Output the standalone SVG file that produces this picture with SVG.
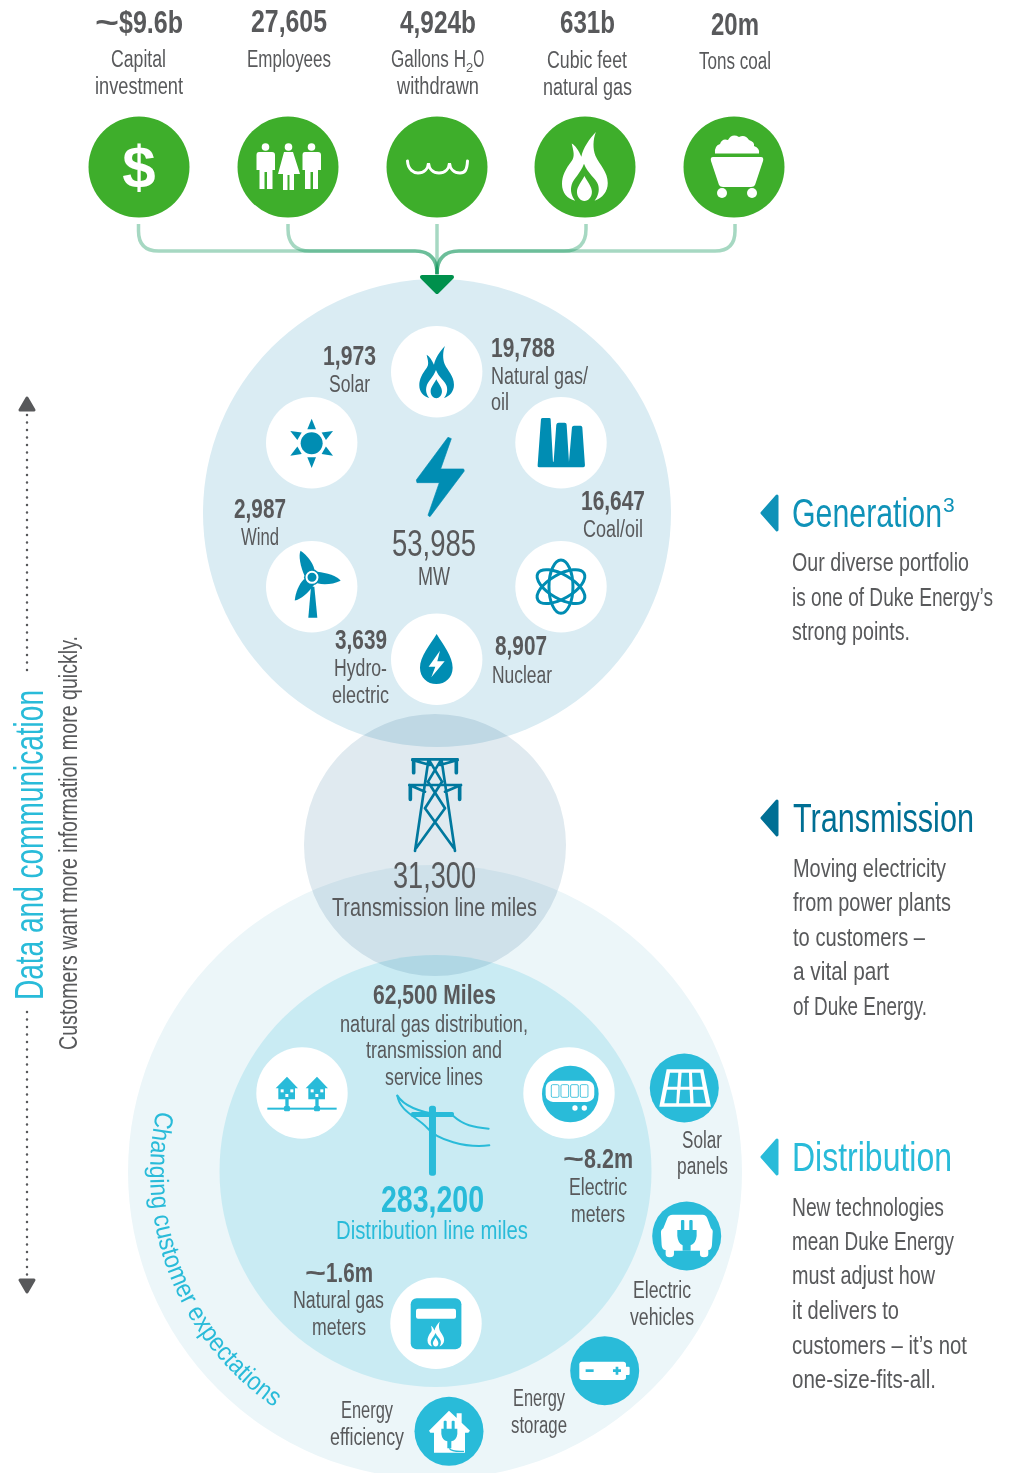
<svg xmlns="http://www.w3.org/2000/svg" xmlns:xlink="http://www.w3.org/1999/xlink" width="1009" height="1473" viewBox="0 0 1009 1473">
<style>
text{font-family:"Liberation Sans Narrow","Liberation Sans",sans-serif;fill:#58595B}
.n{font-size:31px;font-weight:700}
.s{font-size:27px;font-weight:700}
.l{font-size:23.5px}
.b{font-size:25px}
.h{font-size:40px}
.big{font-size:37px}
.teal{fill:#29BBD9}
.wt{fill:#fff}
.blue{fill:#008DB3}
.tl{fill:#29BBD9}
.gr{fill:#3EAE2B}
.conn{fill:none;stroke:#00904F;stroke-opacity:.35;stroke-width:3.5}
.disc{mix-blend-mode:multiply}
</style>
<defs>
<path id="flame" fill-rule="evenodd" d="M77 0C62 16 48 36 44 56C38 42 30 30 22 26C26 44 30 54 22 66C8 84 0 100 0 118C0 138 12 152 30 156C22 146 18 134 22 120C26 106 42 94 50 72C58 94 78 106 82 120C86 134 82 146 74 156C92 150 104 136 104 116C104 90 86 76 76 54C70 38 70 18 77 0ZM51 100C44 114 34 124 34 136C34 148 42 157 51 157C60 157 68 148 68 136C68 124 58 114 51 100Z"/>
<path id="tri" d="M16 2L1 19L16 36Z" stroke-width="3" stroke-linejoin="round"/>
<path id="blade" d="M262 755C290 758 322 768 332 782C310 792 285 796 262 790Z"/>
<path id="curve" d="M156.700 1110.800A285 285 0 0 0 292.500 1418.800"/>
</defs>

<g id="discs">
<circle cx="437" cy="513" r="234" fill="#DAECF3"/>
<circle cx="435" cy="1172" r="307" fill="#ECF6F9"/>
<circle cx="435.500" cy="1171" r="216" fill="#C9EBF3"/>
<circle class="disc" cx="435" cy="845" r="131" fill="#E0EAF0"/>
</g>

<g id="connectors">
<path class="conn" d="M138.500 224V231Q138.500 251 158.500 251H415Q437 251 437 274"/>
<path class="conn" d="M288 224V229Q288 251 310 251H415Q437 251 437 274"/>
<path class="conn" d="M437 224V276"/>
<path class="conn" d="M586 224V229Q586 251 564 251H459Q437 251 437 274"/>
<path class="conn" d="M735 224V231Q735 251 715 251H459Q437 251 437 274"/>
<path d="M422 277L452 277L437 292Z" fill="#00904C" stroke="#00904C" stroke-width="4" stroke-linejoin="round"/>
</g>

<g id="input-capital">
<text class="n" x="95" y="33"><tspan textLength="24" lengthAdjust="spacingAndGlyphs">~</tspan><tspan textLength="64" lengthAdjust="spacingAndGlyphs">$9.6b</tspan></text>
<text class="l" x="111" y="67" textLength="55" lengthAdjust="spacingAndGlyphs">Capital</text>
<text class="l" x="95" y="94" textLength="88" lengthAdjust="spacingAndGlyphs">investment</text>
<circle class="gr" cx="139" cy="167" r="50.500"/>
<text x="139" y="188" text-anchor="middle" style="font-family:'Liberation Sans',sans-serif;font-weight:700;font-size:60px;fill:#fff">$</text>
</g>
<g id="input-employees">
<text class="n" x="251" y="32" textLength="76" lengthAdjust="spacingAndGlyphs">27,605</text>
<text class="l" x="247" y="67" textLength="84" lengthAdjust="spacingAndGlyphs">Employees</text>
<circle class="gr" cx="288" cy="167" r="50.500"/>
<g class="wt">
<circle cx="265.500" cy="147" r="3.800"/><circle cx="288.500" cy="147" r="3.800"/><circle cx="311.500" cy="147" r="3.800"/>
<path d="M259 152H272Q275 152 275 155V170H272.500V189H267V172H264.500V189H259.500V170H256.500V155Q256.500 152 259 152Z"/>
<path d="M305 152H318Q321 152 321 155V170H318V189H313V172H310.500V189H305V170H302.500V155Q302.500 152 305 152Z"/>
<path d="M284 152H293L300 174H294V190H289.500V175H287.500V190H283V174H278Z"/>
</g>
</g>
<g id="input-water">
<text class="n" x="400" y="33" textLength="76" lengthAdjust="spacingAndGlyphs">4,924b</text>
<text class="l" x="391" y="67"><tspan textLength="75" lengthAdjust="spacingAndGlyphs">Gallons H</tspan><tspan dy="5" style="font-size:13px">2</tspan><tspan dy="-5" textLength="11" lengthAdjust="spacingAndGlyphs">O</tspan></text>
<text class="l" x="397" y="94" textLength="82" lengthAdjust="spacingAndGlyphs">withdrawn</text>
<circle class="gr" cx="437" cy="167" r="50.500"/>
<path d="M407.500 161C408 170 414 173 418 173C424 173 428 169 428.500 163C429 169 433 173 439 173C445 173 449 169 449.500 163C450 169 454 173 460 173C465 173 467 170 467.500 161" fill="none" stroke="#fff" stroke-width="3" stroke-linecap="round"/>
</g>
<g id="input-gas">
<text class="n" x="560" y="33" textLength="55" lengthAdjust="spacingAndGlyphs">631b</text>
<text class="l" x="547" y="68" textLength="80" lengthAdjust="spacingAndGlyphs">Cubic feet</text>
<text class="l" x="543" y="95" textLength="89" lengthAdjust="spacingAndGlyphs">natural gas</text>
<circle class="gr" cx="585" cy="167" r="50.500"/>
<use xlink:href="#flame" href="#flame" fill="#fff" transform="translate(562 132) scale(.44)"/>
</g>
<g id="input-coal">
<text class="n" x="711" y="35" textLength="48" lengthAdjust="spacingAndGlyphs">20m</text>
<text class="l" x="699" y="69" textLength="72" lengthAdjust="spacingAndGlyphs">Tons coal</text>
<circle class="gr" cx="734" cy="167" r="50.500"/>
<g class="wt">
<path d="M715 153.500Q714 146 720 144Q722 138 728 140Q732 133 739 137Q745 134 749 140Q755 142 754 146Q760 148 759 153.500Z"/>
<path d="M713 157H761Q764 157 763 161L755 185Q754 187 751 187H723Q720 187 719 185L711 161Q710 157 713 157Z"/>
<circle cx="722" cy="193" r="5"/><circle cx="752" cy="193" r="5"/>
</g>
</g>

<g id="generation-total">
<path class="blue" stroke="#008DB3" stroke-width="2" stroke-linejoin="round" transform="translate(230 320) scale(.3333)" d="M654 352L559 480L561 488H628L594 586L600 590L703 453L701 447H632L664 356Z"/>
<text x="392" y="556" class="big" textLength="84" lengthAdjust="spacingAndGlyphs">53,985</text>
<text x="418" y="585" class="b" textLength="32" lengthAdjust="spacingAndGlyphs">MW</text>
</g>
<g id="gen-gas">
<circle class="wt" cx="436.700" cy="371.700" r="45.700"/>
<use xlink:href="#flame" href="#flame" class="blue" transform="translate(419.300 346) scale(.3333)"/>
<text x="491" y="357" class="s" textLength="64" lengthAdjust="spacingAndGlyphs">19,788</text>
<text x="491" y="384" class="l" textLength="97" lengthAdjust="spacingAndGlyphs">Natural gas/</text>
<text x="491" y="410" class="l" textLength="18" lengthAdjust="spacingAndGlyphs">oil</text>
</g>
<g id="gen-solar">
<circle class="wt" cx="311.700" cy="442.700" r="45.700"/>
<g class="blue" transform="translate(230 320) scale(.3333)">
<circle cx="245" cy="370" r="33"/>
<path d="M245 296L232 328H258Z"/>
<path d="M245 296L232 328H258Z" transform="rotate(60 245 370)"/>
<path d="M245 296L232 328H258Z" transform="rotate(120 245 370)"/>
<path d="M245 296L232 328H258Z" transform="rotate(180 245 370)"/>
<path d="M245 296L232 328H258Z" transform="rotate(240 245 370)"/>
<path d="M245 296L232 328H258Z" transform="rotate(300 245 370)"/>
</g>
<text x="323" y="365" class="s" textLength="53" lengthAdjust="spacingAndGlyphs">1,973</text>
<text x="329" y="392" class="l" textLength="41" lengthAdjust="spacingAndGlyphs">Solar</text>
</g>
<g id="gen-coal">
<circle class="wt" cx="561" cy="442.700" r="45.700"/>
<path class="blue" transform="translate(230 320) scale(.3333)" d="M938 294H958Q962 294 962 298L969 425H971L979 314Q980 308 986 308H1004Q1010 308 1010 314L1017 425L1026 322Q1027 317 1032 317H1052Q1056 317 1057 322L1065 436Q1065 442 1060 442H927Q922 442 923 436L933 298Q934 294 938 294Z"/>
<text x="581" y="510" class="s" textLength="64" lengthAdjust="spacingAndGlyphs">16,647</text>
<text x="583" y="537" class="l" textLength="60" lengthAdjust="spacingAndGlyphs">Coal/oil</text>
</g>
<g id="gen-wind">
<circle class="wt" cx="311.700" cy="586.700" r="45.700"/>
<g class="blue" transform="translate(230 320) scale(.3333)">
<path d="M243 800H253L262 893H235Z"/>
<use xlink:href="#blade" href="#blade"/>
<use xlink:href="#blade" href="#blade" transform="rotate(-120 246 772)"/>
<use xlink:href="#blade" href="#blade" transform="rotate(120 246 772)"/>
<circle cx="246" cy="772" r="24"/>
</g>
<circle cx="312" cy="577.300" r="5.500" fill="none" stroke="#fff" stroke-width="2"/>
<text x="234" y="518" class="s" textLength="52" lengthAdjust="spacingAndGlyphs">2,987</text>
<text x="241" y="545" class="l" textLength="38" lengthAdjust="spacingAndGlyphs">Wind</text>
</g>
<g id="gen-nuclear">
<circle class="wt" cx="561" cy="586.700" r="45.700"/>
<g fill="none" stroke="#008DB3" transform="translate(230 320) scale(.3333)" style="stroke-width:9">
<ellipse cx="993" cy="800" rx="80" ry="36" transform="rotate(90 993 800)"/>
<ellipse cx="993" cy="800" rx="80" ry="36" transform="rotate(30 993 800)"/>
<ellipse cx="993" cy="800" rx="80" ry="36" transform="rotate(-30 993 800)"/>
</g>
<text x="495" y="655" class="s" textLength="52" lengthAdjust="spacingAndGlyphs">8,907</text>
<text x="492" y="683" class="l" textLength="60" lengthAdjust="spacingAndGlyphs">Nuclear</text>
</g>
<g id="gen-hydro">
<circle class="wt" cx="436.700" cy="659.300" r="45.700"/>
<g transform="translate(230 320) scale(.3333)">
<path class="blue" d="M620 942C600 975 570 1010 570 1043C570 1072 592 1092 619 1092C646 1092 668 1072 668 1043C668 1010 640 975 620 942Z"/>
<path class="wt" d="M630 992L596 1040H616L604 1072L644 1024H622Z"/>
</g>
<text x="335" y="649" class="s" textLength="52" lengthAdjust="spacingAndGlyphs">3,639</text>
<text x="334" y="676" class="l" textLength="53" lengthAdjust="spacingAndGlyphs">Hydro-</text>
<text x="332" y="703" class="l" textLength="57" lengthAdjust="spacingAndGlyphs">electric</text>
</g>

<g id="transmission-tower">
<g transform="translate(380 740) scale(.3333)" fill="none" stroke="#00789E" stroke-width="8" stroke-linecap="round" stroke-linejoin="round">
<path d="M97 58H233M88 135H243M145 62L105 333M185 62L225 333M97 60L150 75M233 60L180 75M88 135L135 155M243 135L195 155M150 65L186 125L135 205L222 325M180 65L144 125L195 205L108 325"/>
<path d="M101 62V98M229 62V98M91 138V178M239 138V178" stroke-width="11"/>
</g>
<text x="393" y="888" class="big" textLength="83" lengthAdjust="spacingAndGlyphs">31,300</text>
<text x="332" y="916" class="b" textLength="205" lengthAdjust="spacingAndGlyphs">Transmission line miles</text>
</g>

<g id="distribution-total">
<text x="373" y="1004" class="s" textLength="123" lengthAdjust="spacingAndGlyphs">62,500 Miles</text>
<text x="340" y="1032" class="l" textLength="188" lengthAdjust="spacingAndGlyphs">natural gas distribution,</text>
<text x="366" y="1058" class="l" textLength="136" lengthAdjust="spacingAndGlyphs">transmission and</text>
<text x="385" y="1085" class="l" textLength="98" lengthAdjust="spacingAndGlyphs">service lines</text>
<g transform="translate(240 1040) scale(.3333)">
<g fill="none" stroke="#29BBD9" stroke-width="6" stroke-linecap="round">
<path d="M472 167C490 195 530 215 600 225"/>
<path d="M472 167C480 215 530 230 560 262C590 300 680 325 748 316"/>
<path d="M640 228C670 255 700 262 746 266"/>
</g>
<rect class="teal" x="567" y="197" width="21" height="210" rx="8"/>
<rect class="teal" x="513" y="216" width="129" height="15" rx="5"/>
</g>
<text class="big tl" x="381" y="1212" font-weight="700" textLength="103" lengthAdjust="spacingAndGlyphs">283,200</text>
<text class="b tl" x="336" y="1239" textLength="192" lengthAdjust="spacingAndGlyphs">Distribution line miles</text>
</g>
<g id="dist-homes">
<circle class="wt" cx="302" cy="1093" r="45.700"/>
<g transform="translate(240 1040) scale(.3333)">
<rect class="teal" x="82" y="203" width="208" height="6"/>
<g>
<path class="teal" d="M141 110L174 145H165V178H146V203H136V178H115V145H107Z"/>
<rect class="teal" x="132" y="198" width="18" height="16" rx="4"/>
<rect class="wt" x="122" y="148" width="9" height="9"/><rect class="wt" x="151" y="148" width="9" height="9"/><rect class="wt" x="136" y="162" width="9" height="9"/>
</g>
<g transform="translate(90 0)">
<path class="teal" d="M141 110L174 145H165V178H146V203H136V178H115V145H107Z"/>
<rect class="teal" x="132" y="198" width="18" height="16" rx="4"/>
<rect class="wt" x="122" y="148" width="9" height="9"/><rect class="wt" x="151" y="148" width="9" height="9"/><rect class="wt" x="136" y="162" width="9" height="9"/>
</g>
</g>
</g>
<g id="dist-meters">
<circle class="wt" cx="569" cy="1093" r="45.700"/>
<g transform="translate(240 1040) scale(.3333)">
<circle class="teal" cx="991" cy="162" r="85"/>
<rect class="wt" x="917" y="122" width="146" height="64" rx="22"/>
<g fill="none" stroke="#29BBD9" stroke-width="2.500">
<rect x="934" y="134" width="23" height="38" rx="4"/><rect x="963" y="134" width="23" height="38" rx="4"/><rect x="992" y="134" width="23" height="38" rx="4"/><rect x="1021" y="134" width="23" height="38" rx="4"/>
</g>
<circle class="wt" cx="1005" cy="204" r="8"/><circle class="wt" cx="1033" cy="204" r="8"/>
</g>
<text class="s" x="563" y="1168"><tspan textLength="21" lengthAdjust="spacingAndGlyphs">~</tspan><tspan textLength="49" lengthAdjust="spacingAndGlyphs">8.2m</tspan></text>
<text class="l" x="569" y="1195" textLength="58" lengthAdjust="spacingAndGlyphs">Electric</text>
<text class="l" x="571" y="1222" textLength="54" lengthAdjust="spacingAndGlyphs">meters</text>
</g>
<g id="dist-gas-meters">
<circle class="wt" cx="436" cy="1323.300" r="45.700"/>
<rect class="teal" x="410.700" y="1298.300" width="50.700" height="51" rx="6"/>
<rect class="wt" x="416" y="1308.700" width="40" height="10" rx="2"/>
<use xlink:href="#flame" href="#flame" fill="#fff" transform="translate(427.500 1321.500) scale(.16)"/>
<text class="s" x="305" y="1282"><tspan textLength="21" lengthAdjust="spacingAndGlyphs">~</tspan><tspan textLength="47" lengthAdjust="spacingAndGlyphs">1.6m</tspan></text>
<text class="l" x="293" y="1308" textLength="91" lengthAdjust="spacingAndGlyphs">Natural gas</text>
<text class="l" x="312" y="1335" textLength="54" lengthAdjust="spacingAndGlyphs">meters</text>
</g>
<g id="exp-solar">
<circle class="teal" cx="684.300" cy="1088" r="34.500"/>
<g transform="translate(380 1040) scale(.3333)">
<path class="wt" d="M860 88H970L993 200H838Z"/>
<path class="teal" d="M870 98H895L892 140H863ZM905 98H927L928 140H902ZM936 98H961L968 140H938ZM861 149H891L889 190H853ZM901 149H929L931 190H897ZM939 149H970L978 190H941Z"/>
</g>
<text class="l" x="682" y="1148" textLength="40" lengthAdjust="spacingAndGlyphs">Solar</text>
<text class="l" x="677" y="1174" textLength="51" lengthAdjust="spacingAndGlyphs">panels</text>
</g>
<g id="exp-ev">
<circle class="teal" cx="686.700" cy="1236" r="34.500"/>
<g transform="translate(380 1040) scale(.3333)">
<path class="wt" d="M878 524H968Q978 524 982 535L993 565Q1000 570 998 580L996 615Q995 630 985 630V642Q985 652 972 652Q960 652 960 642V632H882V642Q882 652 869 652Q857 652 857 642V630Q846 630 845 615L843 580Q842 570 850 565L862 535Q866 524 878 524Z"/>
<g class="teal">
<rect x="903" y="540" width="10" height="34" rx="3"/><rect x="928" y="540" width="10" height="34" rx="3"/>
<path d="M892 570H950V588Q948 610 932 616V632H908V616Q894 610 892 588Z"/>
</g>
</g>
<text class="l" x="633" y="1298" textLength="58" lengthAdjust="spacingAndGlyphs">Electric</text>
<text class="l" x="630" y="1325" textLength="64" lengthAdjust="spacingAndGlyphs">vehicles</text>
</g>
<g id="exp-storage">
<circle class="teal" cx="604.700" cy="1370.700" r="34.500"/>
<g transform="translate(380 1040) scale(.3333)">
<rect class="wt" x="598" y="965" width="140" height="55" rx="8"/>
<rect class="wt" x="735" y="980" width="14" height="25" rx="3"/>
<rect class="teal" x="617" y="988" width="24" height="8"/>
<path class="teal" d="M707 980H715V988H723V996H715V1004H707V996H699V988H707Z"/>
</g>
<text class="l" x="513" y="1406" textLength="52" lengthAdjust="spacingAndGlyphs">Energy</text>
<text class="l" x="511" y="1433" textLength="56" lengthAdjust="spacingAndGlyphs">storage</text>
</g>
<g id="exp-efficiency">
<circle class="teal" cx="449" cy="1431.300" r="34.500"/>
<g transform="translate(380 1040) scale(.3333)">
<path class="wt" d="M207 1112L230 1134V1120H245V1148L270 1172L265 1178H255V1238H162V1178H151L147 1172Z"/>
<g class="teal">
<rect x="191" y="1142" width="9" height="28" rx="3"/><rect x="215" y="1142" width="9" height="28" rx="3"/>
<path d="M184 1166H232V1182Q230 1200 214 1204V1225H202V1204Q186 1200 184 1182Z"/>
<path d="M208 1225Q215 1236 252 1234" fill="none" stroke="#29BBD9" stroke-width="4"/>
</g>
</g>
<text class="l" x="341" y="1418" textLength="52" lengthAdjust="spacingAndGlyphs">Energy</text>
<text class="l" x="330" y="1445" textLength="74" lengthAdjust="spacingAndGlyphs">efficiency</text>
</g>
<g id="changing-expectations">
<text class="b tl" style="font-size:26px"><textPath xlink:href="#curve" href="#curve" textLength="338" lengthAdjust="spacingAndGlyphs">Changing customer expectations</textPath></text>
</g>

<g id="side-generation">
<use xlink:href="#tri" href="#tri" fill="#0F92B8" stroke="#0F92B8" transform="translate(761 494)"/>
<text class="h" x="792" y="527" style="fill:#0F92B8"><tspan textLength="150" lengthAdjust="spacingAndGlyphs">Generation</tspan><tspan dy="-15" dx="1" style="font-size:21px">3</tspan></text>
<text class="b" x="792" y="571" textLength="177" lengthAdjust="spacingAndGlyphs">Our diverse portfolio</text>
<text class="b" x="792" y="606" textLength="201" lengthAdjust="spacingAndGlyphs">is one of Duke Energy’s</text>
<text class="b" x="792" y="640" textLength="118" lengthAdjust="spacingAndGlyphs">strong points.</text>
</g>
<g id="side-transmission">
<use xlink:href="#tri" href="#tri" fill="#006F94" stroke="#006F94" transform="translate(761 799)"/>
<text class="h" x="793" y="832" textLength="181" lengthAdjust="spacingAndGlyphs" style="fill:#006F94">Transmission</text>
<text class="b" x="793" y="877" textLength="153" lengthAdjust="spacingAndGlyphs">Moving electricity</text>
<text class="b" x="793" y="911" textLength="158" lengthAdjust="spacingAndGlyphs">from power plants</text>
<text class="b" x="793" y="946" textLength="132" lengthAdjust="spacingAndGlyphs">to customers –</text>
<text class="b" x="793" y="980" textLength="96" lengthAdjust="spacingAndGlyphs">a vital part</text>
<text class="b" x="793" y="1015" textLength="134" lengthAdjust="spacingAndGlyphs">of Duke Energy.</text>
</g>
<g id="side-distribution">
<use xlink:href="#tri" href="#tri" fill="#29BBD9" stroke="#29BBD9" transform="translate(761 1138)"/>
<text class="h tl" x="792" y="1171" textLength="160" lengthAdjust="spacingAndGlyphs">Distribution</text>
<text class="b" x="792" y="1216" textLength="152" lengthAdjust="spacingAndGlyphs">New technologies</text>
<text class="b" x="792" y="1250" textLength="162" lengthAdjust="spacingAndGlyphs">mean Duke Energy</text>
<text class="b" x="792" y="1284" textLength="143" lengthAdjust="spacingAndGlyphs">must adjust how</text>
<text class="b" x="792" y="1319" textLength="107" lengthAdjust="spacingAndGlyphs">it delivers to</text>
<text class="b" x="792" y="1354" textLength="175" lengthAdjust="spacingAndGlyphs">customers – it’s not</text>
<text class="b" x="792" y="1388" textLength="144" lengthAdjust="spacingAndGlyphs">one-size-fits-all.</text>
</g>
<g id="side-data">
<path d="M27 415V676M27 1012V1277" fill="none" stroke="#58595B" stroke-width="2.500" stroke-linecap="round" stroke-dasharray="0 7.500"/>
<path d="M27 398L34 410H20Z" fill="#58595B" stroke="#58595B" stroke-width="3" stroke-linejoin="round"/>
<path d="M27 1292L34 1280H20Z" fill="#58595B" stroke="#58595B" stroke-width="3" stroke-linejoin="round"/>
<text class="h tl" transform="translate(43 1000) rotate(-90)" textLength="310" lengthAdjust="spacingAndGlyphs">Data and communication</text>
<text class="b" transform="translate(77 1050) rotate(-90)" textLength="414" lengthAdjust="spacingAndGlyphs">Customers want more information more quickly.</text>
</g>
</svg>
